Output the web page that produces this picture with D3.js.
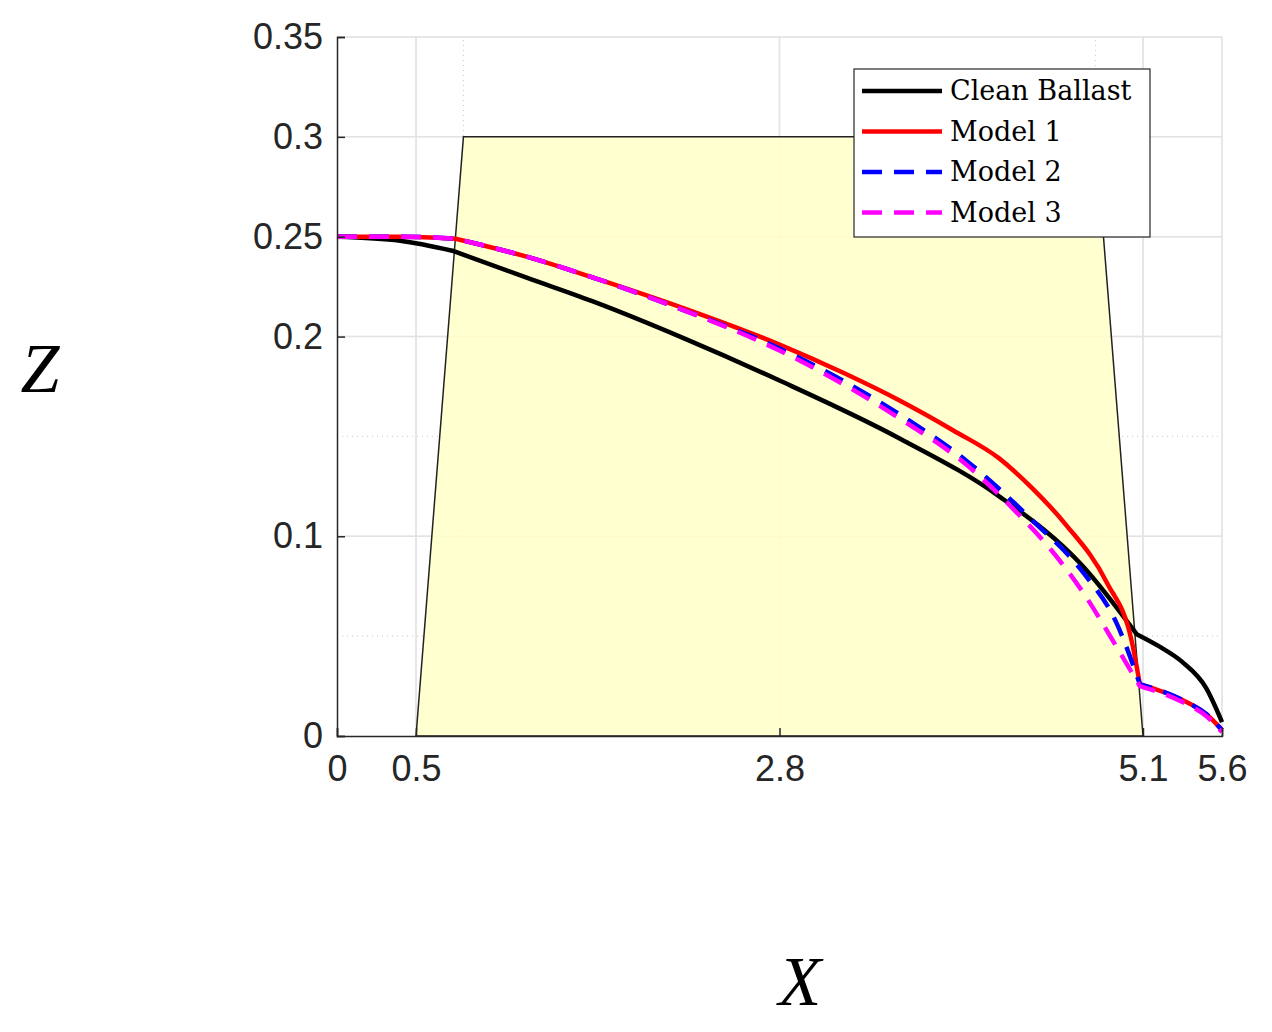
<!DOCTYPE html>
<meta charset="utf-8">
<head>
<script src="https://cdn.jsdelivr.net/npm/d3@7"></script>
<style>body{margin:0;background:#fff}</style>
</head>
<body>
<div id="chart"></div>
<script>
const width = 1272, height = 1032;
const xTicks = [0, 0.5, 2.8, 5.1, 5.6];
const yTicks = [0, 0.1, 0.2, 0.25, 0.3, 0.35];
const xGridSolid = [0.5, 2.8, 5.1, 5.6];
const xGridDot = [0.8, 4.8];
const yGridSolid = [0.1, 0.2, 0.25, 0.3, 0.35];
const yGridDot = [0.05, 0.15];

// ballast cross-section (trapezoid)
const ballastX = [0.5, 0.8, 4.8, 5.1];
const ballastZ = [0, 0.3, 0.3, 0];

// each series: list of smooth pieces, kinks between pieces
const cleanX = [[0, 0.4, 0.73], [0.73, 1.2, 1.64, 2.2, 2.8, 3.56, 4.19, 4.72, 5.06], [5.06, 5.2, 5.35, 5.5, 5.6]];
const cleanZ = [[0.25, 0.248, 0.243], [0.243, 0.2295, 0.217, 0.199, 0.178, 0.149, 0.12, 0.085, 0.051], [0.051, 0.045, 0.037, 0.024, 0.007]];
const m1X = [[0, 0.4, 0.75], [0.75, 1.2, 1.64, 2.2, 2.8, 3.2, 3.56, 3.9, 4.19, 4.4, 4.61, 4.87, 5.03, 5.08], [5.08, 5.35, 5.5, 5.6]];
const m1Z = [[0.25, 0.25, 0.249], [0.249, 0.24, 0.229, 0.214, 0.196, 0.182, 0.168, 0.153, 0.139, 0.124, 0.106, 0.077, 0.047, 0.026], [0.026, 0.018, 0.011, 0.003]];
const m2X = [[0, 0.4, 0.75], [0.75, 1.2, 1.64, 2.2, 2.8, 3.2, 3.56, 3.98, 4.4, 4.72, 4.93, 5.08], [5.08, 5.35, 5.5, 5.6]];
const m2Z = [[0.25, 0.25, 0.249], [0.249, 0.24, 0.229, 0.213, 0.194, 0.178, 0.161, 0.138, 0.108, 0.082, 0.057, 0.026], [0.026, 0.018, 0.011, 0.003]];
const m3X = [[0, 0.4, 0.75], [0.75, 1.2, 1.64, 2.2, 2.8, 3.56, 3.98, 4.3, 4.51, 4.72, 4.93, 5.08], [5.08, 5.35, 5.5, 5.6]];
const m3Z = [[0.25, 0.25, 0.249], [0.249, 0.24, 0.229, 0.213, 0.193, 0.159, 0.136, 0.112, 0.094, 0.072, 0.045, 0.025], [0.025, 0.017, 0.010, 0.002]];

const series = [
  {name: "Clean Ballast", xs: cleanX, zs: cleanZ, color: "#000", dash: null},
  {name: "Model 1", xs: m1X, zs: m1Z, color: "#ff0000", dash: null},
  {name: "Model 2", xs: m2X, zs: m2Z, color: "#0000ff", dash: "20,12"},
  {name: "Model 3", xs: m3X, zs: m3Z, color: "#ff00ff", dash: "20,12"}
];

const x = d3.scaleLinear().domain([0, 5.6]).range([337, 1222]);
const y = d3.scaleLinear().domain([0, 0.35]).range([736, 37]);

const svg = d3.select("#chart").append("svg")
  .attr("width", width).attr("height", height);

const grid = svg.append("g");
grid.selectAll(".gx").data(xGridSolid).join("line")
  .attr("x1", d => x(d)).attr("x2", d => x(d)).attr("y1", y(0)).attr("y2", y(0.35))
  .attr("stroke", "#e3e3e3").attr("stroke-width", 1.5);
grid.selectAll(".gxd").data(xGridDot).join("line")
  .attr("x1", d => x(d)).attr("x2", d => x(d)).attr("y1", y(0)).attr("y2", y(0.35))
  .attr("stroke", "#cfcfcf").attr("stroke-dasharray", "1,4");
grid.selectAll(".gy").data(yGridSolid).join("line")
  .attr("x1", x(0)).attr("x2", x(5.6)).attr("y1", d => y(d)).attr("y2", d => y(d))
  .attr("stroke", "#e3e3e3").attr("stroke-width", 1.5);
grid.selectAll(".gyd").data(yGridDot).join("line")
  .attr("x1", x(0)).attr("x2", x(5.6)).attr("y1", d => y(d)).attr("y2", d => y(d))
  .attr("stroke", "#cfcfcf").attr("stroke-dasharray", "1,4");

svg.append("path")
  .attr("d", d3.line().x(d => x(d[0])).y(d => y(d[1]))(ballastX.map((v, i) => [v, ballastZ[i]])) + "Z")
  .attr("fill", "#ffffc8").attr("fill-opacity", 0.85).attr("stroke", "#222").attr("stroke-width", 1.5);

// redraw grid lightly over fill
grid.clone(true).attr("opacity", 0.5);

const line = d3.line().x(d => x(d[0])).y(d => y(d[1])).curve(d3.curveMonotoneX);
series.forEach(s => {
  const d = s.xs.map((piece, p) => {
    const seg = line(piece.map((v, i) => [v, s.zs[p][i]]));
    return p === 0 ? seg : "L" + seg.slice(1);
  }).join("");
  svg.append("path")
    .attr("d", d)
    .attr("fill", "none").attr("stroke", s.color).attr("stroke-width", 4.5)
    .attr("stroke-linejoin", "round")
    .attr("stroke-dasharray", s.dash);
});

const xAxis = svg.append("g").attr("transform", `translate(0,${y(0)})`)
  .call(d3.axisBottom(x).tickValues(xTicks).tickFormat(d => d).tickSize(-8).tickPadding(14));
const yAxis = svg.append("g").attr("transform", `translate(${x(0)},0)`)
  .call(d3.axisLeft(y).tickValues(yTicks).tickFormat(d => d).tickSize(-8).tickPadding(14));
[xAxis, yAxis].forEach(a => {
  a.select(".domain").attr("stroke", "#262626").attr("stroke-width", 1.5);
  a.selectAll(".tick line").attr("stroke", "#262626").attr("stroke-width", 1.5);
  a.selectAll("text").attr("font-family", "Liberation Sans, Arial, sans-serif")
    .attr("font-size", 36).attr("fill", "#262626");
});
xAxis.selectAll("text").attr("dy", "0.85em");

svg.append("text").attr("x", 800).attr("y", 1005).attr("text-anchor", "middle")
  .attr("font-family", "Liberation Serif, serif").attr("font-style", "italic")
  .attr("font-size", 70).text("X");
svg.append("text").attr("x", 40).attr("y", 392).attr("text-anchor", "middle")
  .attr("font-family", "Liberation Serif, serif").attr("font-style", "italic")
  .attr("font-size", 70).text("Z");

const leg = svg.append("g").attr("transform", "translate(854,69)");
leg.append("rect").attr("width", 296).attr("height", 168)
  .attr("fill", "#fff").attr("stroke", "#262626").attr("stroke-width", 1.2);
series.forEach((s, i) => {
  const yy = 22 + i * 40.5;
  leg.append("line").attr("x1", 8).attr("x2", 88).attr("y1", yy).attr("y2", yy)
    .attr("stroke", s.color).attr("stroke-width", 4.5).attr("stroke-dasharray", s.dash);
  leg.append("text").attr("x", 96).attr("y", yy + 9)
    .attr("font-family", "DejaVu Serif, serif").attr("font-size", 27).text(s.name);
});
</script>
</body>
